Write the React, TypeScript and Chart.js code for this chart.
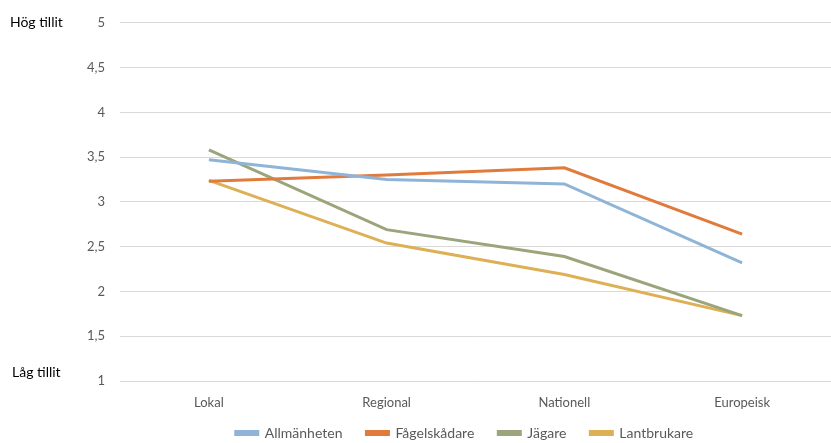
import React, { useEffect, useRef } from "react";
import { Chart, registerables } from "chart.js";

Chart.register(...registerables);

const categories = ["Lokal", "Regional", "Nationell", "Europeisk"];
const allmanheten = [3.47, 3.25, 3.2, 2.32];
const fagelskadare = [3.23, 3.3, 3.38, 2.64];
const jagare = [3.58, 2.69, 2.39, 1.73];
const lantbrukare = [3.24, 2.54, 2.19, 1.73];
const seriesNames = ["Allmänheten", "Fågelskådare", "Jägare", "Lantbrukare"];
const seriesColors = ["#8FB4D8", "#E07B3C", "#9BA57B", "#DDB055"];
const highLabel = "Hög tillit";
const lowLabel = "Låg tillit";

const FONT = "Lato, 'Open Sans', sans-serif";

const sideLabels = {
  id: "sideLabels",
  afterLayout(chart: any) {
    const lg = chart.legend;
    if (lg) {
      const w = lg.right - lg.left;
      const shift = 49;
      lg.left = lg.left + shift;
      lg.right = lg.left + w;
      lg.top = lg.top - 13;
      lg.bottom = lg.bottom - 13;
    }
  },
  afterDraw(chart: any) {
    const ctx = chart.ctx;
    const y = chart.scales.y;
    ctx.save();
    ctx.fillStyle = "#000000";
    ctx.font = `14px ${FONT}`;
    ctx.textAlign = "left";
    ctx.textBaseline = "middle";
    ctx.fillText(highLabel, 10, y.getPixelForValue(5));
    ctx.fillText(lowLabel, 12, y.getPixelForValue(1) - 9);
    ctx.restore();
  },
};

export default function App() {
  const ref = useRef<HTMLCanvasElement | null>(null);
  useEffect(() => {
    if (!ref.current) return;
    const data = [allmanheten, fagelskadare, jagare, lantbrukare];
    const chart = new Chart(ref.current, {
      type: "line",
      data: {
        labels: categories,
        datasets: seriesNames.map((n, i) => ({
          label: n,
          data: data[i],
          borderColor: seriesColors[i],
          backgroundColor: seriesColors[i],
          borderWidth: 3,
          pointRadius: 0,
          tension: 0,
          fill: false,
        })),
      },
      options: {
        animation: false,
        responsive: false,
        maintainAspectRatio: false,
        layout: { padding: { top: 22, right: 0, bottom: 0, left: 0 } },
        plugins: {
          tooltip: { enabled: false },
          legend: {
            position: "bottom",
            labels: {
              boxWidth: 22,
              boxHeight: 3,
              padding: 24,
              color: "#595959",
              font: { family: FONT, size: 14 },
            },
          },
        },
        scales: {
          x: {
            offset: true,
            grid: { display: false, drawTicks: false },
            border: { display: false },
            afterFit: (s: any) => {
              s.height = 34;
            },
            ticks: { color: "#595959", font: { family: FONT, size: 13 }, padding: 14 },
          },
          y: {
            min: 1,
            max: 5,
            afterFit: (s: any) => {
              s.width = 120;
            },
            grid: { color: "#D9D9D9", drawTicks: false, lineWidth: 1 },
            border: { display: false },
            ticks: {
              stepSize: 0.5,
              color: "#595959",
              padding: 15,
              font: { family: FONT, size: 13 },
              callback: (v: any) => String(v).replace(".", ","),
            },
          },
        },
      },
      plugins: [sideLabels],
    });
    return () => chart.destroy();
  }, []);
  return (
    <div
      style={{
        position: "fixed",
        left: 0,
        top: 0,
        width: 831,
        height: 443,
        overflow: "hidden",
        background: "#fff",
      }}
    >
      <canvas ref={ref} width={831} height={463} style={{ display: "block" }} />
    </div>
  );
}
